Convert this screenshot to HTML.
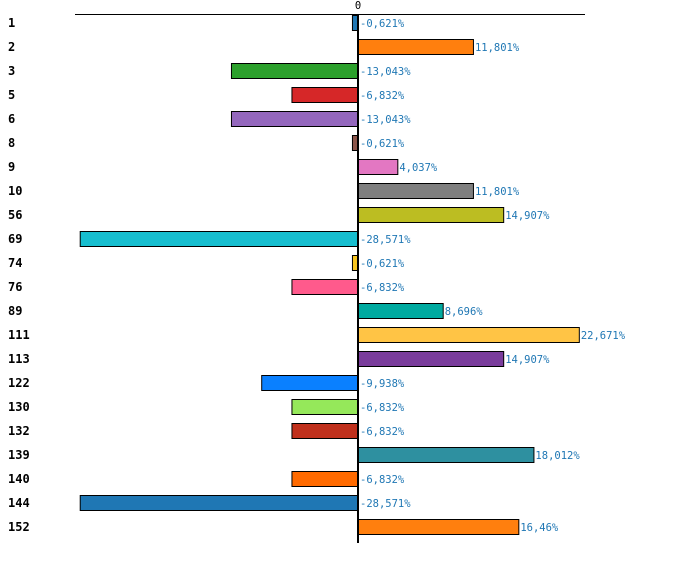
<!DOCTYPE html>
<html><head><meta charset="utf-8"><style>
body{margin:0;background:#fff;width:700px;height:573px;overflow:hidden}
svg{display:block}
.cat{font-family:"DejaVu Sans Mono","Liberation Mono",monospace;font-weight:bold;font-size:12px;fill:#000}
.val{font-family:"DejaVu Sans Mono","Liberation Mono",monospace;font-size:10.5px;fill:#1f77b4}
</style></head><body>
<svg id="chart" width="700" height="573" xmlns="http://www.w3.org/2000/svg"></svg>
<script>
const categories=["1","2","3","5","6","8","9","10","56","69","74","76","89","111","113","122","130","132","139","140","144","152"];
const values=[-0.621,11.801,-13.043,-6.832,-13.043,-0.621,4.037,11.801,14.907,-28.571,-0.621,-6.832,8.696,22.671,14.907,-9.938,-6.832,-6.832,18.012,-6.832,-28.571,16.46];
const valueLabels=["-0,621%","11,801%","-13,043%","-6,832%","-13,043%","-0,621%","4,037%","11,801%","14,907%","-28,571%","-0,621%","-6,832%","8,696%","22,671%","14,907%","-9,938%","-6,832%","-6,832%","18,012%","-6,832%","-28,571%","16,46%"];
const colors=["#1f77b4","#ff7f0e","#2ca02c","#d62728","#9467bd","#8c564b","#e377c2","#7f7f7f","#bcbd22","#17becf","#f7c520","#ff5a8c","#00aaa0","#ffc445","#7a3c9c","#0a80ff","#95e85a","#c0301c","#2e90a0","#ff6a00","#1f77b4","#ff7f0e"];
const NS="http://www.w3.org/2000/svg";
const svgEl=document.getElementById('chart');
const x0=358, k=9.74;
const xs=v=>x0+v*k;
const yc=i=>23+i*24;
function mk(t,a){const e=document.createElementNS(NS,t);for(const n in a)e.setAttribute(n,a[n]);svgEl.appendChild(e);return e;}
const topLine=mk('line',{x1:75,x2:585,y1:14.5,y2:14.5,stroke:'#000','stroke-width':1});


const zt=mk('text',{x:x0,y:9,'text-anchor':'middle',class:'val',style:'fill:#000'});zt.textContent='0';


categories.forEach((c,i)=>{
  const v=values[i];
  const r=mk('rect',{x:Math.min(xs(v),x0)+0.5,y:yc(i)-7.5,width:Math.abs(xs(v)-x0),height:15,fill:colors[i],stroke:'#000','stroke-width':1});
  
  
  const t=mk('text',{x:8,y:yc(i)+4,class:'cat'});t.textContent=c;
  
  
  const lx=v<0?x0+2:xs(v)+2;
  const vt=mk('text',{x:lx,y:yc(i)+4,class:'val'});vt.textContent=valueLabels[i];
  
  
});
const ax=mk('line',{x1:x0,x2:x0,y1:14,y2:543,stroke:'#000','stroke-width':2});


</script>
</body></html>
